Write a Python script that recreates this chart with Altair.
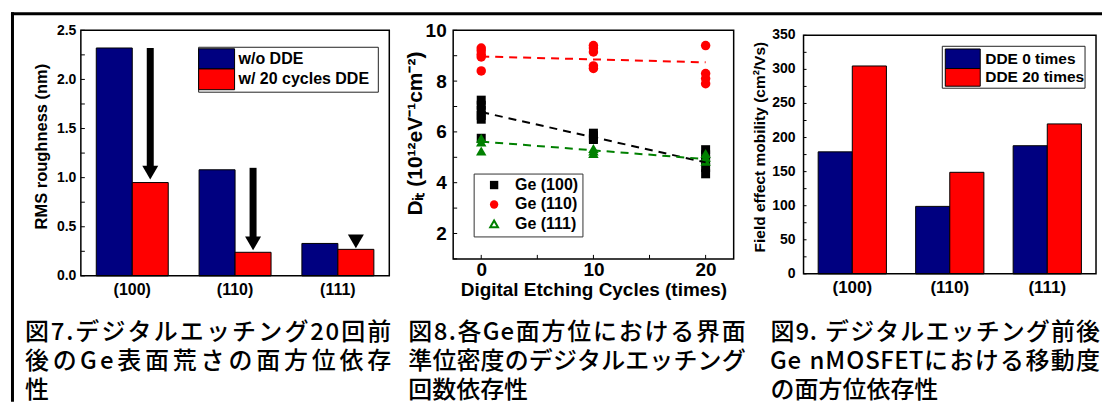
import altair as alt
import pandas as pd

# ---------------- data ----------------
# Fig. 7: RMS surface roughness before / after 20 cycles of digital etching
orientations = ["(100)", "(110)", "(111)"]
rms_series = ["w/o DDE", "w/ 20 cycles DDE"]
rms_without = [2.32, 1.08, 0.33]
rms_with = [0.95, 0.24, 0.27]
arrow_start = [2.32, 1.10, 0.36]
arrow_tip = [0.98, 0.26, 0.28]

# Fig. 8: interface state density vs. number of etching cycles
ge_names = ["Ge (100)", "Ge (110)", "Ge (111)"]
cycles = [0, 10, 20]
dit_ge100 = [[7.25, 7.05, 6.85, 6.65, 6.5, 5.75], [5.95, 5.85, 5.75, 5.7], [5.3, 5.1, 4.9, 4.6, 4.35]]
dit_ge110 = [[9.3, 9.2, 9.05, 8.95, 8.4], [9.4, 9.3, 9.15, 8.6, 8.5], [9.4, 8.3, 8.1, 7.9]]
dit_ge111 = [[5.75, 5.6, 5.25], [5.35, 5.25, 5.15], [5.15, 5.0, 4.85]]
fit_cycles = [0, 20]
fit_ge100 = [6.78, 4.80]
fit_ge110 = [8.97, 8.74]
fit_ge111 = [5.62, 4.93]

# Fig. 9: field effect mobility
mob_series = ["DDE 0 times", "DDE 20 times"]
mob_0 = [179, 99, 188]
mob_20 = [305, 149, 220]
mob_ticks = [0, 50, 100, 150, 200, 250, 300, 350]

# captions (the last line of each is left ragged, the others are justified)
caption_7 = ["図7.デジタルエッチング20回前", "後のGe表面荒さの面方位依存", "性"]
caption_8 = ["図8.各Ge面方位における界面", "準位密度のデジタルエッチング", "回数依存性"]
caption_9 = ["図9. デジタルエッチング前後", "Ge nMOSFETにおける移動度", "の面方位依存性"]

# ---------------- styling ----------------
FONT = "Liberation Sans"
CJK = "Noto Sans CJK JP"
CAP_SIZE = 24
NAVY = "#000080"
RED = "#FF0000"
GREEN = "#008000"
one = pd.DataFrame({"k": [0]})

# approximate advance widths (em) of the Latin glyphs used in the captions
LATIN_EM = {" ": 0.25, ".": 0.28, "e": 0.55, "n": 0.6, "G": 0.66, "M": 0.82, "O": 0.74,
            "S": 0.58, "F": 0.52, "E": 0.56, "T": 0.55}


def advance(ch):
    if ch.isdigit():
        return 0.55 * CAP_SIZE
    return LATIN_EM.get(ch, 1.0) * CAP_SIZE


def frame(w, h, y0=0):
    return alt.Chart(one).mark_rect(fillOpacity=0, stroke="black", strokeWidth=1.5).encode(
        x=alt.value(0), x2=alt.value(w), y=alt.value(y0), y2=alt.value(h))


def caption(lines, x0, x1):
    """Justified caption block laid out character by character (pixel coordinates)."""
    recs = []
    for i, line in enumerate(lines):
        ws = [advance(c) for c in line]
        last = i == len(lines) - 1
        extra = 0 if last or len(line) < 2 else (x1 - x0 - sum(ws)) / (len(line) - 1)
        x = x0
        for c, w in zip(line, ws):
            if c != " ":
                recs.append({"ch": c, "px": x + w / 2, "py": 303 + 29 * i})
            x += w + extra
    df = pd.DataFrame(recs)
    return alt.Chart(df).mark_text(
        font=CJK, fontSize=CAP_SIZE, fontWeight=500, align="center", baseline="middle", color="black"
    ).encode(x=alt.X("px:Q", scale=None, axis=None), y=alt.Y("py:Q", scale=None, axis=None), text="ch:N")


def swatch_legend(names, colors, box, sw_x, rows, text_x, font_size):
    bx0, bx1, by0, by1 = box
    layers = [alt.Chart(one).mark_rect(fill="white", stroke="#222222", strokeWidth=1).encode(
        x=alt.value(bx0), x2=alt.value(bx1), y=alt.value(by0), y2=alt.value(by1))]
    for name, col, (ry0, ry1) in zip(names, colors, rows):
        layers.append(alt.Chart(one).mark_rect(fill=col, stroke="black", strokeWidth=1).encode(
            x=alt.value(sw_x[0]), x2=alt.value(sw_x[1]), y=alt.value(ry0), y2=alt.value(ry1)))
        layers.append(alt.Chart(one).mark_text(
            text=name, font=FONT, fontWeight="bold", fontSize=font_size, align="left",
            baseline="middle", color="black").encode(x=alt.value(text_x), y=alt.value((ry0 + ry1) / 2)))
    return layers


def inward_ticks_y(values, field, length):
    df = pd.DataFrame({field: values})
    return alt.Chart(df).mark_rule(color="black", strokeWidth=1).encode(
        x=alt.value(0), x2=alt.value(length), y=alt.Y(f"{field}:Q"))


# ---------------- Fig. 7 ----------------
X1, W1, H1 = 79, 309, 246
rms_df = pd.DataFrame({
    "orientation": orientations * 2,
    "series": [rms_series[0]] * 3 + [rms_series[1]] * 3,
    "rms": rms_without + rms_with,
})
x1 = alt.X("orientation:N", scale=alt.Scale(domain=orientations, paddingInner=0.3, paddingOuter=0.15),
           axis=alt.Axis(title=None, labelAngle=0, labelFontSize=16, labelPadding=6))
xo1 = alt.XOffset("series:N", scale=alt.Scale(domain=rms_series, paddingInner=0, paddingOuter=0))
bars1 = alt.Chart(rms_df).mark_bar(stroke="black", strokeWidth=1).encode(
    x=x1, xOffset=xo1,
    y=alt.Y("rms:Q", scale=alt.Scale(domain=[0, 2.5], nice=False),
            axis=alt.Axis(values=[0, 0.5, 1.0, 1.5, 2.0, 2.5], format=".1f", labelFontSize=14,
                          labelPadding=5, title="RMS roughness (nm)", titleFontSize=16.5, titlePadding=7,
                          titleY=116)),
    color=alt.Color("series:N", scale=alt.Scale(domain=rms_series, range=[NAVY, RED]), legend=None),
)
arrow_df = pd.DataFrame({"orientation": orientations, "series": [rms_series[1]] * 3,
                         "start": arrow_start, "tip": arrow_tip})
shafts = alt.Chart(arrow_df).mark_rule(color="black", strokeWidth=7, y2Offset=-11).encode(
    x=x1, xOffset=xo1, y="start:Q", y2="tip:Q")
heads = alt.Chart(arrow_df).mark_point(shape="triangle-down", filled=True, color="black", opacity=1,
                                       size=256, yOffset=-7).encode(x=x1, xOffset=xo1, y="tip:Q")
ticks1 = inward_ticks_y([i * 0.25 for i in range(11)], "rms", 4)
legend1 = swatch_legend(rms_series, [NAVY, RED], (118, 298, 17, 62), (118, 154),
                        [(18.5, 38.7), (38.7, 59.5)], 158, 16)
border = [
    alt.Chart(one).mark_rule(color="black", strokeWidth=3).encode(
        x=alt.value(-68.5), y=alt.value(-18), y2=alt.value(372)),
    alt.Chart(one).mark_rule(color="black", strokeWidth=3).encode(
        x=alt.value(-70), x2=alt.value(1023), y=alt.value(-16.5)),
]
p1 = alt.layer(bars1, shafts, heads, ticks1, *legend1, frame(W1, H1), *border,
               caption(caption_7, 23 - X1, 390 - X1)).properties(width=W1, height=H1)

# ---------------- Fig. 8 ----------------
X2, W2, H2, R2 = 452, 287, 229, 281
rows = []
for name, groups in zip(ge_names, [dit_ge100, dit_ge110, dit_ge111]):
    for c, group in zip(cycles, groups):
        for v in group:
            rows.append({"series": name, "cycle": c, "dit": v})
dit_df = pd.DataFrame(rows)
fit_df = pd.DataFrame({
    "series": [n for n in ge_names for _ in fit_cycles],
    "cycle": fit_cycles * 3,
    "dit": fit_ge100 + fit_ge110 + fit_ge111,
})
x2 = alt.X("cycle:Q", scale=alt.Scale(domain=[-2.5, 22.5], range=[0, R2], nice=False, zero=False),
           axis=alt.Axis(values=[0, 10, 20], format="d", labelFontSize=19, labelPadding=2,
                         title="Digital Etching Cycles (times)", titleFontSize=19, titlePadding=1,
                         titleX=R2 / 2))
y2 = alt.Y("dit:Q", scale=alt.Scale(domain=[1, 10], nice=False, zero=False),
           axis=alt.Axis(values=[2, 4, 6, 8, 10], format="d", labelFontSize=19, labelPadding=7,
                         title="Dᵢₜ (10¹²eV⁻¹cm⁻²)", titleFontSize=21, titlePadding=0, titleY=103))
colors2 = [("black", "square", 81), (RED, "circle", 90), (GREEN, "triangle-up", 110)]
pts = []
for name, (col, shp, sz) in zip(ge_names, colors2):
    pts.append(alt.Chart(dit_df[dit_df.series == name]).mark_point(
        shape=shp, filled=True, color=col, opacity=1, size=sz).encode(x=x2, y=y2))
lines = []
for name, (col, _, _) in zip(ge_names, colors2):
    lines.append(alt.Chart(fit_df[fit_df.series == name]).mark_line(
        color=col, strokeDash=[8, 6], strokeWidth=2).encode(x=x2, y=y2))
xt = pd.DataFrame({"cycle": [0, 5, 10, 15, 20]})
ticks2x = alt.Chart(xt).mark_rule(color="black", strokeWidth=1).encode(
    x=alt.X("cycle:Q"), y=alt.value(H2), y2=alt.value(H2 - 4))
ticks2y = inward_ticks_y(list(range(1, 11)), "dit", 4)
legend2 = [alt.Chart(one).mark_rect(fill="white", stroke="#333333", strokeWidth=1).encode(
    x=alt.value(21), x2=alt.value(130), y=alt.value(144), y2=alt.value(207))]
for name, (col, shp, _), ry in zip(ge_names, colors2, [155, 174.5, 194]):
    filled = shp != "triangle-up"
    legend2.append(alt.Chart(one).mark_point(
        shape=shp, filled=filled, color=col, opacity=1, size=70 if filled else 60,
        strokeWidth=2).encode(x=alt.value(41), y=alt.value(ry)))
    legend2.append(alt.Chart(one).mark_text(
        text=name, font=FONT, fontWeight="bold", fontSize=16, align="left", baseline="middle",
        color="black").encode(x=alt.value(62), y=alt.value(ry)))
p2 = alt.layer(*pts, *lines, ticks2x, ticks2y, *legend2, frame(R2, H2),
               caption(caption_8, 407 - X2, 745 - X2)).properties(width=W2, height=H2)

# ---------------- Fig. 9 ----------------
X3, W3, H3, T3 = 803, 293, 244, 5
mob_df = pd.DataFrame({
    "orientation": orientations * 2,
    "series": [mob_series[0]] * 3 + [mob_series[1]] * 3,
    "mobility": mob_0 + mob_20,
})
y3 = alt.Y("mobility:Q", scale=alt.Scale(domain=[0, 350], range=[H3, T3], nice=False),
           axis=alt.Axis(labels=False, title="Field effect mobility (cm²/Vs)",
                         titleFontSize=15.5, titlePadding=36, titleY=116.5))
bars3 = alt.Chart(mob_df).mark_bar(stroke="black", strokeWidth=1).encode(
    x=alt.X("orientation:N", scale=alt.Scale(domain=orientations, paddingInner=0.3, paddingOuter=0.15),
            axis=alt.Axis(title=None, labelAngle=0, labelFontSize=17, labelPadding=6)),
    xOffset=alt.XOffset("series:N", scale=alt.Scale(domain=mob_series, paddingInner=0, paddingOuter=0)),
    y=y3,
    color=alt.Color("series:N", scale=alt.Scale(domain=mob_series, range=[NAVY, RED]), legend=None),
)
# tick labels of the mobility axis, placed through the y scale
ylabels3 = alt.Chart(pd.DataFrame({"mobility": mob_ticks})).mark_text(
    font=FONT, fontWeight="bold", fontSize=14, align="right", baseline="middle", color="black",
    dx=-8).encode(x=alt.value(0), y=y3, text="mobility:Q")
ticks3 = inward_ticks_y(list(range(0, 351, 25)), "mobility", 3)
legend3 = swatch_legend(mob_series, [NAVY, RED], (139, 282, 16, 58), (142, 177),
                        [(18.7, 38.3), (38.3, 56)], 182, 15.5)
p3 = alt.layer(bars3, ylabels3, ticks3, *legend3, frame(W3, H3, T3),
               caption(caption_9, 770 - X3, 1100 - X3)).properties(width=W3, height=H3)

chart = alt.hconcat(p1, p2, p3, spacing=64, bounds="flush").resolve_scale(
    x="independent", y="independent", xOffset="independent", color="independent"
).configure_view(
    stroke=None
).configure_axis(
    domain=False, ticks=False, grid=False, labelFont=FONT, titleFont=FONT,
    labelFontWeight="bold", titleFontWeight="bold", labelColor="black", titleColor="black"
).properties(
    padding={"left": 9, "top": 10, "right": 0, "bottom": 0}, background="white"
)

chart.save("out.html", embed_options={"renderer": "svg", "actions": False})
